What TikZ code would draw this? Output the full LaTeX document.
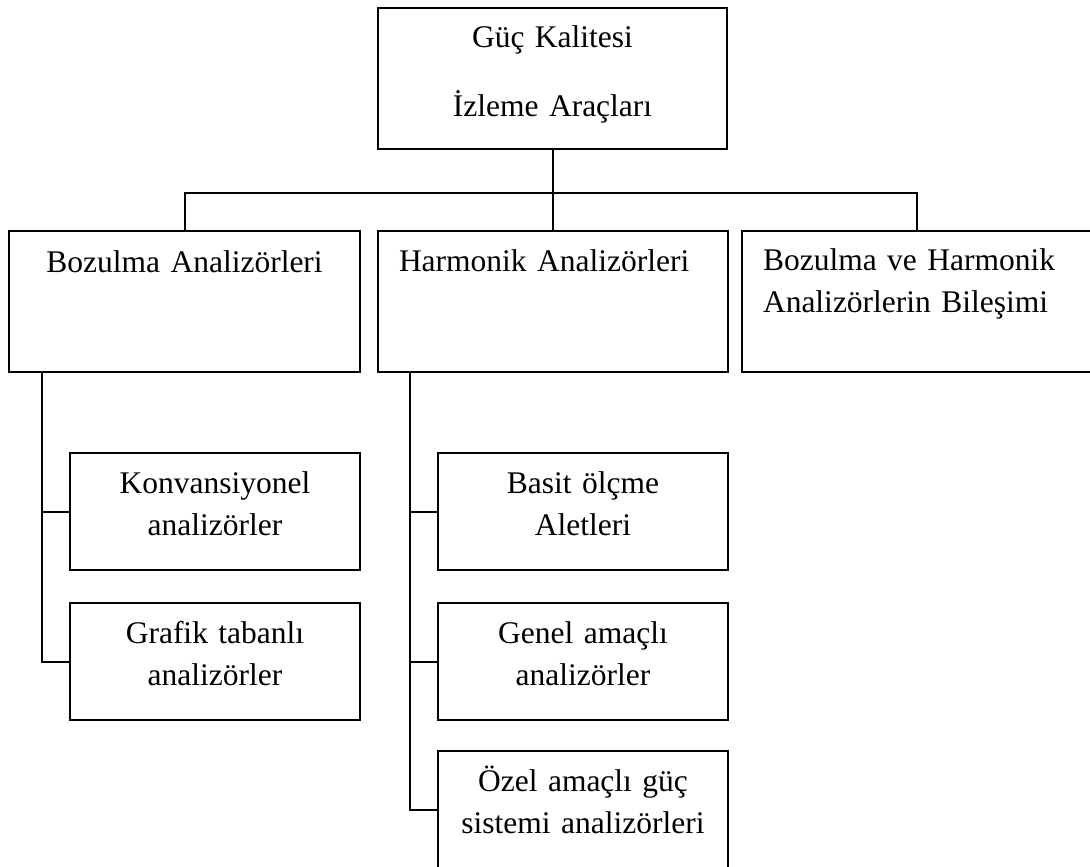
\documentclass[tikz,border=0pt]{standalone}
\usepackage{fontspec}
\setmainfont{Liberation Serif}
\usepackage{tikz}

\begin{document}
\begin{tikzpicture}[x=1pt, y=-1pt, line width=2pt,
                kutu/.style={draw, inner sep=0pt, outer sep=0pt,
                    anchor=north west, align=center,
                    font=\fontsize{31.5}{42}\selectfont},
                buyuk/.style={kutu, text width=350pt, text height=40pt, text depth=101pt},
                kucuk/.style={kutu, text width=290pt, text height=40pt, text depth=77pt},
                sol/.style={align=left, inner xsep=21pt, text width=308pt}]
            \clip (0,0) rectangle (1090,867);

            \node[buyuk, text width=349pt] (ana) at (378,8) {Güç Kalitesi\\[27pt]İzleme Araçları};

            \node[buyuk, text width=351pt, text height=41pt, text depth=100pt] (boz) at (9,231) {Bozulma Analizörleri};
            \node[buyuk, sol] (harm) at (378,231) {Harmonik Analizörleri};
            \node[buyuk, sol, text height=39pt, text depth=102pt] (bil) at (742,231) {Bozulma ve Harmonik\\Analizörlerin Bileşimi};

            \node[kucuk] (konv) at (70,453) {Konvansiyonel\\analizörler};
            \node[kucuk] (graf) at (70,603) {Grafik tabanlı\\analizörler};

            \node[kucuk] (basit) at (438,453) {Basit ölçme\\Aletleri};
            \node[kucuk] (genel) at (438,603) {Genel amaçlı\\analizörler};
            \node[kucuk] (ozel) at (438,751) {Özel amaçlı güç\\sistemi analizörleri};

            \coordinate (kol) at (554,193);
            \draw (ana.south) -- (ana.south |- harm.north);
            \draw (boz.north) |- (kol) -| (bil.north);

            \coordinate (bk) at ([xshift=33pt]boz.south west);
            \draw (bk) |- (konv.west);
            \draw (bk) |- (graf.west);

            \coordinate (hk) at ([xshift=32pt]harm.south west);
            \draw (hk) |- (basit.west);
            \draw (hk) |- (genel.west);
            \draw (hk) |- (ozel.west);
        \end{tikzpicture}
\end{document}
